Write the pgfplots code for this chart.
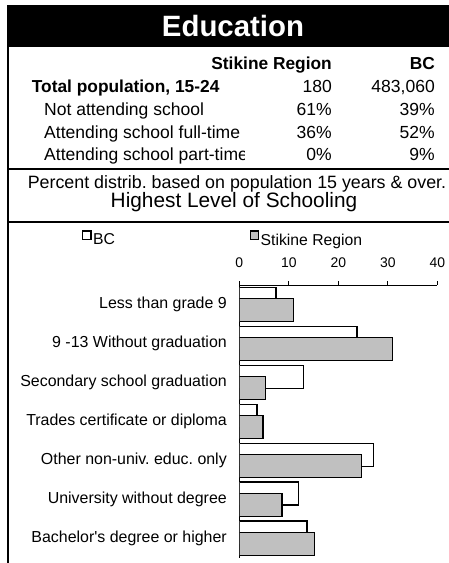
\documentclass[border=0pt]{standalone}
\usepackage{fontspec}
\setmainfont{Liberation Sans}
\usepackage{pgfplots}
\pgfplotsset{compat=1.18}
\definecolor{barGrey}{RGB}{192,192,192}
\newcommand{\fs}[1]{\fontsize{#1}{#1}\selectfont}
\newcommand{\apos}{\XeTeXglyph\XeTeXcharglyph"27\relax}
\frenchspacing

\begin{document}
\begin{tikzpicture}
\path[use as bounding box] (0,0) rectangle (449bp,-563bp);
% title bar
\fill[black] (6.7bp,-5.3bp) rectangle (449bp,-46.7bp);
\node[white, font=\fs{29.5}\bfseries, anchor=base, inner sep=0] at (233bp,-36.7bp) {Education};
\draw[line width=2.6bp] (8bp,-46bp) -- (8bp,-563bp);
% table
\node[font=\fs{17.4}\bfseries, anchor=base east, inner sep=0] at (332bp,-69bp) {Stikine Region};
\node[font=\fs{17.4}\bfseries, anchor=base east, inner sep=0] at (435bp,-69bp) {BC};
\node[font=\fs{17.4}\bfseries, anchor=base west, inner sep=0] at (31.7bp,-92bp) {Total population, 15-24};
\node[font=\fs{17.6}, anchor=base east, inner sep=0] at (332bp,-92bp) {180};
\node[font=\fs{17.6}, anchor=base east, inner sep=0] at (435bp,-92bp) {483,060};
\node[font=\fs{17.6}, anchor=base west, inner sep=0] at (44bp,-115.5bp) {Not attending school};
\node[font=\fs{17.6}, anchor=base east, inner sep=0] at (332bp,-115.5bp) {61\%};
\node[font=\fs{17.6}, anchor=base east, inner sep=0] at (435bp,-115.5bp) {39\%};
\node[font=\fs{17.6}, anchor=base west, inner sep=0] at (44bp,-138bp) {Attending school full-time};
\node[font=\fs{17.6}, anchor=base east, inner sep=0] at (332bp,-138bp) {36\%};
\node[font=\fs{17.6}, anchor=base east, inner sep=0] at (435bp,-138bp) {52\%};
\begin{scope}
\clip (30bp,-140bp) rectangle (244.5bp,-168bp);
\node[font=\fs{17.6}, anchor=base west, inner sep=0] at (44bp,-160bp) {Attending school part-time};
\end{scope}
\node[font=\fs{17.6}, anchor=base east, inner sep=0] at (332bp,-160bp) {0\%};
\node[font=\fs{17.6}, anchor=base east, inner sep=0] at (435bp,-160bp) {9\%};
\draw[line width=2.4bp] (8bp,-169bp) -- (449bp,-169bp);
\node[font=\fs{17.9}, anchor=base, inner sep=0] at (237bp,-188bp) {Percent distrib. based on population 15 years \& over.};
\node[font=\fs{20.9}, anchor=base, inner sep=0] at (234bp,-207.5bp) {Highest Level of Schooling};
\draw[line width=1.2bp] (8bp,-222bp) -- (449bp,-222bp);
\begin{axis}[
  at={(239.3bp,-285bp)}, anchor=north west,
  scale only axis, width=198bp, height=272.7bp,
  xmin=0, xmax=40, ymin=-0.5, ymax=6.5,
  axis x line=top, axis y line=left,
  axis line style={-, line width=0.9bp, black},
  xtick={0,10,20,30,40},
  tick align=outside, major tick length=4bp,
  xtick style={line width=0.9bp, black},
  ytick={0,1,2,3,4,5,6},
  yticklabels={Bachelor\apos s degree or higher, University without degree, Other non-univ. educ. only, Trades certificate or diploma, Secondary school graduation, 9 -13 Without graduation, Less than grade 9},
  ytick style={draw=none},
  xticklabel style={font=\fs{14}, yshift=9.5bp},
  yticklabel style={font=\fs{16}, xshift=-5bp},
  /pgf/number format/assume math mode=true,
  xbar, bar width=23bp,
  legend style={draw=none, fill=none, inner sep=0pt, outer sep=0pt,
    at={(axis description cs:-0.793,1.1705)}, anchor=west,
    legend columns=2, font=\fs{15.8},
    /tikz/every even column/.append style={column sep=135bp},
    nodes={inner sep=0pt}},
  legend image code/.code={\draw[#1, line width=1.2bp] (0.5bp,0.8bp) rectangle (8.7bp,9.2bp); \path (10bp,0bp);},
]
\addplot[fill=white, draw=black, line width=1.3bp, bar shift=5.65bp]
  coordinates {(13.7,0) (12.0,1) (27.1,2) (3.6,3) (13.0,4) (23.8,5) (7.4,6)};
\addplot[fill=barGrey, draw=black, line width=1.3bp, bar shift=-5.65bp]
  coordinates {(15.2,0) (8.6,1) (24.7,2) (4.8,3) (5.3,4) (30.9,5) (10.9,6)};
\legend{BC, Stikine Region}
\end{axis}
\end{tikzpicture}
\end{document}
